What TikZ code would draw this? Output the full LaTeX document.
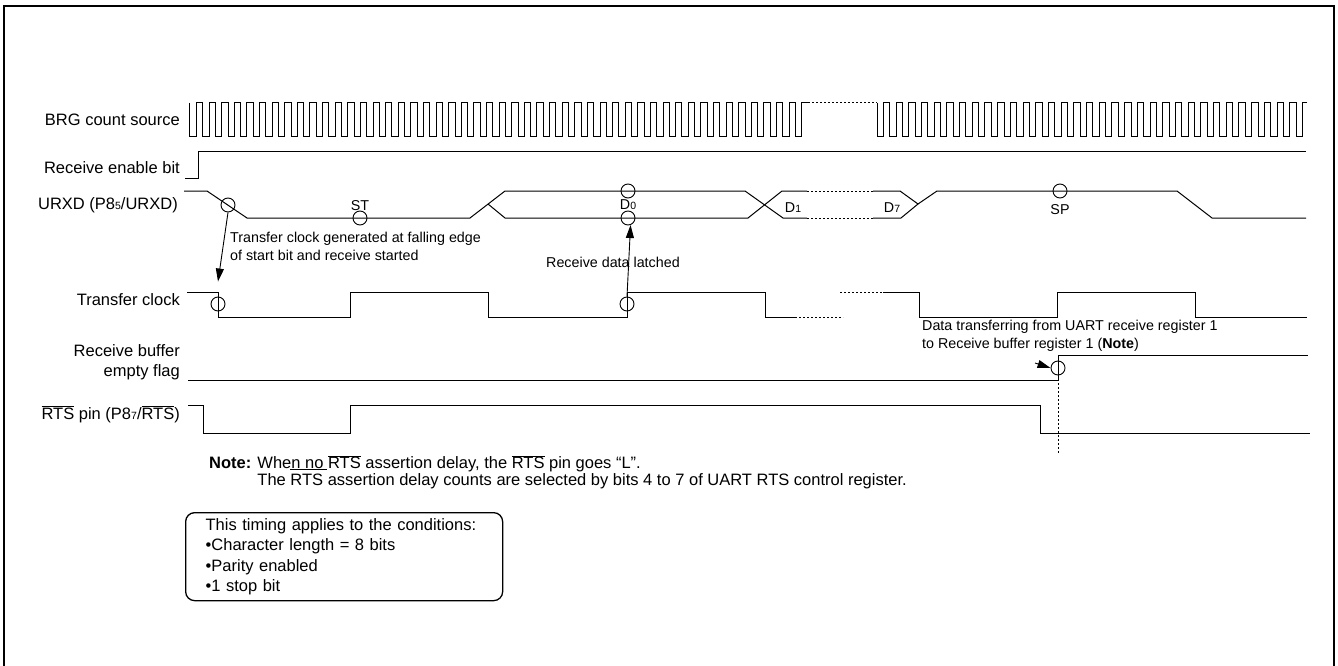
\documentclass[tikz,border=0pt]{standalone}
\usepackage{fontspec}
\setmainfont{Liberation Sans}
\usetikzlibrary{arrows.meta}
\newcommand\ovl[1]{$\overline{\mbox{#1}}$}
\newcommand\lowdigit[1]{{\fontsize{10.5}{10.5}\selectfont #1}}
\tikzset{
	sig/.style={line width=1pt},
	gap/.style={line width=1pt,dash pattern=on 2pt off 2pt},
	probe/.style={circle,draw,line width=0.9pt,minimum size=14pt,inner sep=0pt},
	lbl/.style={anchor=east,align=right,inner sep=0pt,font=\fontsize{16.5}{20}\selectfont},
	ann/.style={anchor=west,align=left,inner sep=0pt,font=\fontsize{14.3}{18}\selectfont},
	bitname/.style={inner sep=0pt,font=\fontsize{14.3}{16}\selectfont},
	tip/.style={-{Triangle[length=13pt,width=8pt]},line width=0.9pt}
}
\begin{document}
\begin{tikzpicture}[x=1pt,y=-1pt]
	\useasboundingbox (0,0) rectangle (1338,666);
	% frame
	\draw[line width=2.5pt] (4,680) -- (4,6) -- (1334,6) -- (1334,680);
	% signal names
	\node[lbl] (nbrg) at (180,120) {BRG count source};
	\node[lbl] (nren) at (180,168) {Receive enable bit};
	\node[lbl] (nrxd) at (178,205) {URXD (P8\lowdigit{5}/URXD)};
	\node[lbl] (ntck) at (180,300) {Transfer clock};
	\node[lbl] (nflag) at (180,362) {Receive buffer\\empty flag};
	\node[lbl] (nrts) at (180,414) {\ovl{RTS} pin (P8\lowdigit{7}/\ovl{RTS})};
	% BRG count source
	\draw[sig] (189,103) -- (189,137)
		\foreach \k in {0,...,47}
			{ -- ({196.5+12.61*\k},137) -- ({196.5+12.61*\k},103) -- ({202.8+12.61*\k},103) -- ({202.8+12.61*\k},137) }
		-- (801.8,137) -- (801.8,103) -- (808,103);
	\draw[gap] (808,103) -- (877,103);
	\draw[sig] (877,103) -- (877,137)
		\foreach \k in {0,...,32}
			{ -- ({883.35+12.7*\k},137) -- ({883.35+12.7*\k},103) -- ({889.7+12.7*\k},103) -- ({889.7+12.7*\k},137) }
		-- (1302.5,137) -- (1302.5,103) -- (1307,103);
	% receive enable bit
	\draw[sig] (185,178) -- (198,178) -- (198,151) -- (1306,151);
	% URXD
	\draw[sig] (184,191) -- (207,191) -- (247,218) -- (470,218) -- (505,191) -- (745,191) -- (783,218) -- (807,218);
	\draw[sig] (488,204) -- (505,218) -- (748,218) -- (782,191) -- (807,191);
	\draw[gap] (807,191) -- (873,191) (807,218) -- (873,218);
	\draw[sig] (873,191) -- (900,191) -- (918,204) -- (937,191) -- (1177,191) -- (1212,218) -- (1306,218);
	\draw[sig] (873,218) -- (901,218) -- (918,204);
	\node[bitname] (bst) at (360,206) {ST};
	\node[bitname] (bd0) at (628,205) {D\lowdigit{0}};
	\node[bitname] (bd1) at (793,208) {D\lowdigit{1}};
	\node[bitname] (bd7) at (892,208) {D\lowdigit{7}};
	\node[bitname] (bsp) at (1060,210) {SP};
	% transfer clock
	\draw[sig] (187,292) -- (218,292) -- (218,317) -- (350,317) -- (350,292) -- (488,292) -- (488,317)
		-- (627,317) -- (627,292) -- (765,292) -- (765,317) -- (795,317);
	\draw[gap] (795,317) -- (843,317) (840,292) -- (883,292);
	\draw[sig] (883,292) -- (919,292) -- (919,317) -- (1057,317) -- (1057,292) -- (1195,292) -- (1195,317) -- (1307,317);
	% receive buffer empty flag
	\draw[sig] (188,380) -- (1058,380) -- (1058,355) -- (1308,355);
	% RTS pin
	\draw[sig] (188,405) -- (203,405) -- (203,433) -- (350,433) -- (350,405) -- (1040,405) -- (1040,433) -- (1310,433);
	% probe marks
	\node[probe] (pfall) at (228,205) {};
	\node[probe] (pst) at (360,218) {};
	\node[probe] (pd0h) at (628,191) {};
	\node[probe] (pd0l) at (628,218) {};
	\node[probe] (psp) at (1060,191) {};
	\node[probe] (ptc1) at (218,304) {};
	\node[probe] (ptc2) at (627,304) {};
	\node[probe] (pflag) at (1058,368) {};
	\coordinate (vend) at (1058,453);
	\draw[gap,line width=0.8pt] (pflag.south) -- (vend);
	% remarks
	\node[ann] (tfall) at (230,246) {Transfer clock generated at falling edge\\of start bit and receive started};
	\node[ann] (tlatch) at (546,262) {Receive data latched};
	\node[ann] (txfer) at (922,336) {Data transferring from UART receive register 1\\to Receive buffer register 1 (\textbf{Note})};
	\coordinate (xfrom) at (1035,363);
	\draw[tip] (pfall.south) -- ([yshift=15pt]ptc1.north);
	\draw[tip] (ptc2.north) -- (pd0l.-70);
	\draw[tip] (xfrom) -- (pflag.west);
	% note
	\node[anchor=north west,inner sep=0pt,font=\fontsize{16.5}{16}\selectfont] (tnote) at (209,455)
		{\begin{tabular}{@{}l@{ }l@{}}
			\textbf{Note:} & When no \ovl{RTS} assertion delay, the \ovl{RTS} pin goes “L”.\\
			& The RTS assertion delay counts are selected by bits 4 to 7 of UART RTS control register.
		\end{tabular}};
	\draw[line width=0.8pt] (290,469) -- (327,469);
	% conditions
	\node[draw,rounded corners=9pt,line width=1.3pt,anchor=north west,align=left,text width=277pt,
		inner xsep=20pt,inner ysep=5pt,minimum height=88pt,font=\fontsize{16.5}{20.3}\selectfont] (tcond) at (185,512)
		{This timing applies to the conditions:\\•Character length = 8 bits\\•Parity enabled\\•1 stop bit};
\end{tikzpicture}
\end{document}
